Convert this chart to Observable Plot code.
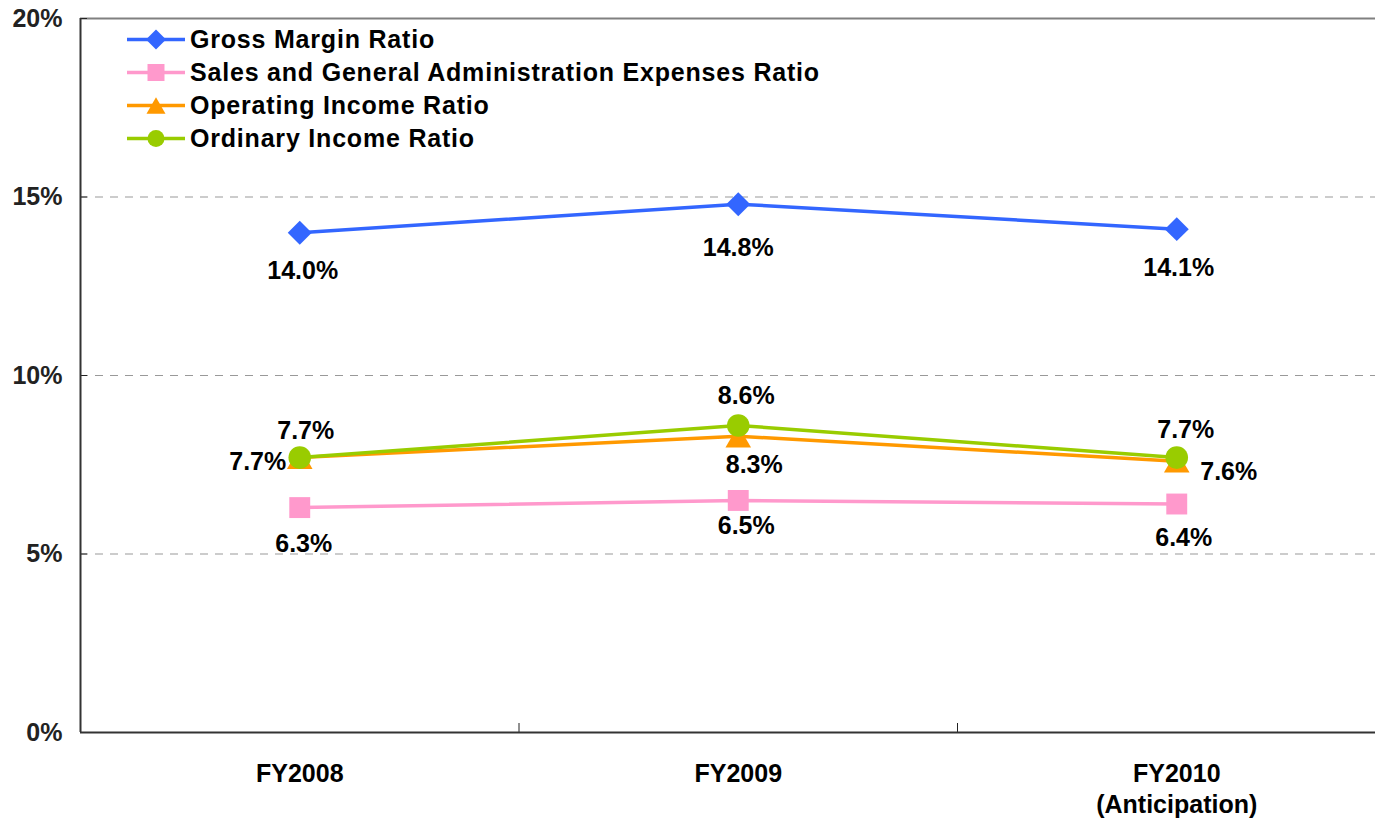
<!DOCTYPE html>
<html>
<head>
<meta charset="utf-8">
<script src="https://cdn.jsdelivr.net/npm/d3@7"></script>
<script src="https://cdn.jsdelivr.net/npm/@observablehq/plot@0.6"></script>
<style>
  body { margin: 0; background: #fff; }
  #wrap { position: relative; width: 1375px; height: 820px; overflow: hidden; font-family: "Liberation Sans", Arial, sans-serif; }
  #legend { position: absolute; left: 127px; top: 23px; }
  .row { display: flex; align-items: center; height: 33px; }
  .row svg { display: block; }
  .row span { font-size: 25px; font-weight: bold; letter-spacing: 0.8px; margin-left: 5px; line-height: 33px; color: #000; white-space: nowrap; }
</style>
</head>
<body>
<div id="wrap"><div id="chart"></div><div id="legend"></div></div>
<script>
// ---- data ----
const categories = ["FY2008", "FY2009", "FY2010\n(Anticipation)"];
const seriesNames = [
  "Gross Margin Ratio",
  "Sales and General Administration Expenses Ratio",
  "Operating Income Ratio",
  "Ordinary Income Ratio"
];
const grossMargin = [14.0, 14.8, 14.1];
const sgaExpenses = [6.3, 6.5, 6.4];
const operatingIncome = [7.7, 8.3, 7.6];
const ordinaryIncome = [7.7, 8.6, 7.7];
const yTicks = [0, 5, 10, 15, 20];

// ---- styling / layout ----
const seriesColors = ["#3366FF", "#FF99CC", "#FF9900", "#99CC00"];
const seriesSymbols = ["diamond2", "square", "triangle", "circle"];
const markerR = [10.8, 11.8, 9.5, 11.3];
const markerDy = [0, 0, 4, 0];
// label offsets [dx, dy] per series per category
const labelOffsets = [
  [[3, 38], [0, 44], [2, 39]],
  [[4, 36], [8, 26], [7, 34]],
  [[-42, 4], [16, 29], [52, 11]],
  [[6, -27], [8, -29], [9, -28]]
];

const seriesValues = [grossMargin, sgaExpenses, operatingIncome, ordinaryIncome];
const rows = seriesValues.flatMap((vals, s) => vals.map((v, i) => ({s, i, v})));
const xDomain = [-0.5, categories.length - 0.5];
const between = d3.range(1, categories.length).map(i => i - 0.5);
const yMax = yTicks[yTicks.length - 1];
const font = "'Liberation Sans', Arial, sans-serif";

const marks = [
  Plot.ruleY(yTicks.filter(t => t > 0 && t < yMax), {stroke: "#999", strokeWidth: 1, strokeDasharray: "8,7"}),
  Plot.ruleY([yMax], {stroke: "#808080", strokeWidth: 2}),
  Plot.axisY({ticks: yTicks, tickFormat: d => d + "%", tickSize: -7, tickPadding: 25, fontSize: 25, fontWeight: "bold", label: null}),
  Plot.axisX({ticks: between, tickSize: -9, tickFormat: () => "", label: null})
];

seriesValues.forEach((vals, s) => {
  const data = rows.filter(r => r.s === s);
  marks.push(Plot.line(data, {x: "i", y: "v", stroke: seriesColors[s], strokeWidth: 3.5}));
  marks.push(Plot.dot(data, {x: "i", y: "v", symbol: seriesSymbols[s], r: markerR[s], fill: seriesColors[s], stroke: "none", dy: markerDy[s]}));
});

marks.push(Plot.ruleY([0], {stroke: "#333", strokeWidth: 2}));
marks.push(Plot.ruleX([xDomain[0]], {stroke: "#333", strokeWidth: 2}));

rows.forEach(r => {
  const [dx, dy] = labelOffsets[r.s][r.i];
  marks.push(Plot.text([r], {x: "i", y: "v", text: d => d.v.toFixed(1) + "%", dx, dy, fontSize: 25, fontWeight: "bold", fill: "#000"}));
});

marks.push(Plot.text(categories, {x: (d, i) => i, text: d => d, frameAnchor: "bottom", lineAnchor: "top", dy: 28, lineHeight: 1.22, fontSize: 25, fontWeight: "bold", fill: "#000"}));

const chart = Plot.plot({
  width: 1375,
  height: 820,
  marginLeft: 80,
  marginRight: 0,
  marginTop: 18,
  marginBottom: 88,
  style: {fontFamily: font, fontSize: "25px", fontWeight: "bold", color: "#222", background: "#fff"},
  x: {domain: xDomain, range: [80, 1395.5]},
  y: {domain: [0, yMax]},
  marks
});
document.getElementById("chart").appendChild(chart);

// ---- legend ----
const legendSym = [d3.symbolDiamond2, d3.symbolSquare, d3.symbolTriangle, d3.symbolCircle];
const legendSize = [255, 289, 156, 227];
const legendDy = [0, 0, 2.7, 0];
const legend = d3.select("#legend");
seriesNames.forEach((name, s) => {
  const row = legend.append("div").attr("class", "row");
  const svg = row.append("svg").attr("width", 58).attr("height", 33);
  svg.append("line").attr("x1", 0).attr("x2", 58).attr("y1", 16.5).attr("y2", 16.5)
    .attr("stroke", seriesColors[s]).attr("stroke-width", 3.5);
  svg.append("path").attr("d", d3.symbol(legendSym[s], legendSize[s])())
    .attr("transform", `translate(29,${16.5 + legendDy[s]})`).attr("fill", seriesColors[s]);
  row.append("span").text(name);
});
</script>
</body>
</html>
